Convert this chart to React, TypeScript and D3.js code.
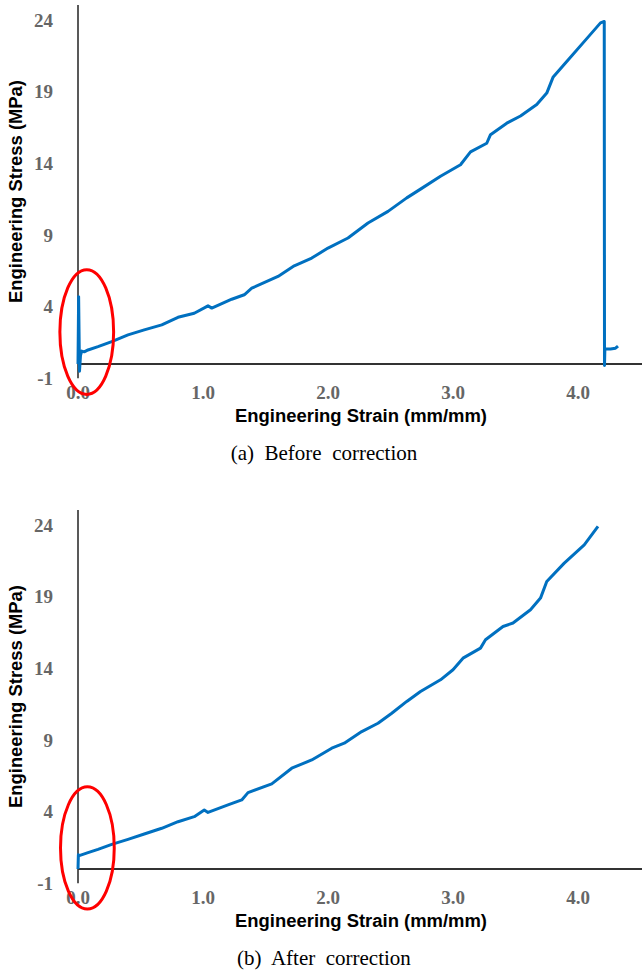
import React from 'react';
import * as d3 from 'd3';

// (a) before correction
const strainBefore = [0, 0.005, 0.012, 0.02, 0.03, 0.05, 0.08, 0.16, 0.27, 0.40, 0.53, 0.67, 0.80, 0.93, 1.04, 1.07, 1.23, 1.33, 1.39, 1.60, 1.73, 1.87, 2.00, 2.16, 2.32, 2.48, 2.63, 2.74, 2.90, 3.06, 3.14, 3.27, 3.30, 3.43, 3.54, 3.67, 3.75, 3.80, 3.91, 4.07, 4.18, 4.21, 4.212, 4.215, 4.26, 4.30, 4.32];
const stressBefore = [0, 4.7, -0.5, 0.6, 0.9, 0.85, 0.98, 1.21, 1.56, 2.03, 2.38, 2.73, 3.26, 3.54, 4.06, 3.9, 4.52, 4.83, 5.29, 6.11, 6.85, 7.39, 8.09, 8.79, 9.84, 10.65, 11.59, 12.2, 13.1, 13.9, 14.8, 15.4, 16.0, 16.8, 17.3, 18.1, 18.9, 20.0, 21.1, 22.7, 23.8, 23.9, -0.1, 1.05, 1.05, 1.1, 1.25];

// (b) after correction
const strainAfter = [0, 0.003, 0.01, 0.08, 0.16, 0.27, 0.40, 0.53, 0.67, 0.80, 0.93, 1.01, 1.04, 1.20, 1.31, 1.36, 1.55, 1.71, 1.87, 2.03, 2.13, 2.27, 2.40, 2.51, 2.63, 2.74, 2.90, 3.00, 3.08, 3.22, 3.26, 3.40, 3.48, 3.62, 3.70, 3.75, 3.89, 4.05, 4.16];
const stressAfter = [0, 1.0, 0.93, 1.14, 1.37, 1.72, 2.07, 2.44, 2.84, 3.30, 3.65, 4.12, 3.95, 4.47, 4.82, 5.33, 5.94, 7.03, 7.61, 8.43, 8.78, 9.59, 10.17, 10.87, 11.69, 12.38, 13.20, 13.90, 14.71, 15.41, 15.99, 16.92, 17.16, 18.09, 18.90, 20.06, 21.34, 22.62, 23.90];

const xTicks = [0, 1, 2, 3, 4];
const yTicks = [24, 19, 14, 9, 4, -1];

// red circle marks, in data units: [strain, stress, rxStrain, ryStress]
const markBefore = [0.07, 2.23, 0.215, 4.35];
const markAfter = [0.075, 1.47, 0.215, 4.26];

const captions = ['(a)  Before  correction', '(b)  After  correction'];

const BLUE = '#0070C0';
const TICK = '#666';

type PanelProps = {
  top: number;
  xs: number[];
  ys: number[];
  mark: number[];
  caption: string;
};

const Panel = ({ top, xs, ys, mark, caption }: PanelProps) => {
  const x = d3.scaleLinear().domain([0, 4]).range([78, 578]);
  const y = d3.scaleLinear().domain([0, 24]).range([top + 364, top + 20]);

  const pts = xs.map((v, i) => [v, ys[i]] as [number, number]);
  const line = d3.line<[number, number]>().x(d => x(d[0])).y(d => y(d[1]));

  return (
    <g>
      {/* axes */}
      <line x1={x(0)} x2={x(0)} y1={y(-1)} y2={y(25.05)} stroke="#222" strokeWidth={1.5} />
      <line x1={x(0)} x2={642} y1={y(0)} y2={y(0)} stroke="#333" strokeWidth={2} />

      {yTicks.map(t => (
        <text key={t} x={53} y={y(t) + 6.5} textAnchor="end" fontFamily="'Liberation Serif', serif"
          fontWeight="bold" fontSize={19} fill={TICK}>{t}</text>
      ))}
      {xTicks.map(t => (
        <text key={t} x={x(t)} y={top + 399} textAnchor="middle" fontFamily="'Liberation Serif', serif"
          fontWeight="bold" fontSize={19} fill={TICK}>{d3.format('.1f')(t)}</text>
      ))}

      <text x={235} y={top + 422} fontFamily="'Liberation Sans', Arial, sans-serif" fontWeight="bold"
        fontSize={18} fill="#000" textLength={252} lengthAdjust="spacingAndGlyphs">Engineering Strain (mm/mm)</text>
      <text transform={`translate(22,${top + 191.5}) rotate(-90)`} textAnchor="middle"
        fontFamily="'Liberation Sans', Arial, sans-serif" fontWeight="bold" fontSize={18} fill="#000"
        textLength={223} lengthAdjust="spacingAndGlyphs">Engineering Stress (MPa)</text>

      <path d={line(pts) || ''} fill="none" stroke={BLUE} strokeWidth={3} strokeLinejoin="round" />

      <ellipse cx={x(mark[0])} cy={y(mark[1])} rx={x(mark[2]) - x(0)} ry={y(0) - y(mark[3])}
        fill="none" stroke="#ff0000" strokeWidth={3} />

      <text x={324} y={top + 460} textAnchor="middle" fontFamily="'Liberation Serif', 'Times New Roman', serif"
        fontSize={21} fill="#000" style={{ whiteSpace: 'pre' }}>{caption}</text>
    </g>
  );
};

const App = () => {
  return (
    <svg width={642} height={972} style={{ position: 'absolute', left: 0, top: 0, background: '#fff' }}>
      <rect width={642} height={972} fill="#fff" />
      <Panel top={0} xs={strainBefore} ys={stressBefore} mark={markBefore} caption={captions[0]} />
      <Panel top={505} xs={strainAfter} ys={stressAfter} mark={markAfter} caption={captions[1]} />
    </svg>
  );
};

export default App;
